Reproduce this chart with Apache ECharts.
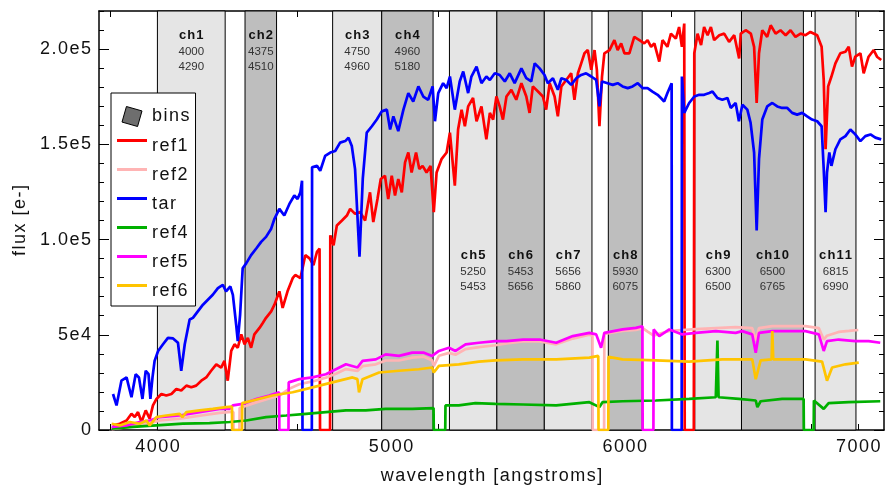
<!DOCTYPE html>
<html lang="en">
<head>
<meta charset="UTF-8">
<title>spectra bins</title>
<style>
    html,body{
        width: 100%;
        height: 100%;
        margin: 0;
        padding: 0;
        background: #fff;
    }
    #chart{
        width: 886px;
        height: 490px;
    }
</style>
</head>
<body>
<div id="chart"></div>
<script src="https://cdn.jsdelivr.net/npm/echarts@6/dist/echarts.min.js"></script>
<script>
// bins (angstroms)
var binNames = ['ch1', 'ch2', 'ch3', 'ch4', 'ch5', 'ch6', 'ch7', 'ch8', 'ch9', 'ch10', 'ch11'];
var binStart = [4000, 4375, 4750, 4960, 5250, 5453, 5656, 5930, 6300, 6500, 6815];
var binEnd   = [4290, 4510, 4960, 5180, 5453, 5656, 5860, 6075, 6500, 6765, 6990];

// axis ticks
var xLabelTicks = [4000, 5000, 6000, 7000];
var xTicks = [3800, 4000, 4200, 4400, 4600, 4800, 5000, 5200, 5400, 5600, 5800, 6000, 6200, 6400, 6600, 6800, 7000];
var yMajorTicks = [0, 50, 100, 150, 200];
var yTickLabels = ['0', '5e4', '1.0e5', '1.5e5', '2.0e5'];
var yMinorTicks = [0, 10, 20, 30, 40, 50, 60, 70, 80, 90, 100, 110, 120, 130, 140, 150, 160, 170, 180, 190, 200, 210, 220];

// spectra: [wavelength, flux in 1e3 e-]
var ref1 = [[3810,2.4],[3839,3.3],[3868,5.0],[3889,8.5],[3903,6.8],[3917,9.4],[3932,4.2],[3950,10.3],[3967,5.9],[3981,12.9],[3996,16.3],[4017,18.9],[4038,18.1],[4060,18.9],[4081,21.5],[4102,20.7],[4124,23.3],[4145,22.4],[4166,23.3],[4188,25.9],[4209,27.6],[4230,31.1],[4252,34.5],[4273,32.8],[4287,36.3],[4301,25.9],[4316,41.5],[4330,45.0],[4344,43.2],[4359,50.2],[4373,45.0],[4387,48.4],[4401,43.2],[4415,50.2],[4437,53.6],[4451,56.2],[4465,58.9],[4487,62.3],[4501,65.8],[4522,72.8],[4536,64.1],[4557,72.8],[4579,79.7],[4590,81.4],[4612,79.7],[4633,91.8],[4651,90.1],[4668,86.6],[4683,93.6],[4694,95.3],[4696,0],[4739,0],[4740,102.2],[4754,97.0],[4768,107.4],[4790,110.0],[4811,112.6],[4825,116.1],[4846,113.5],[4868,114.4],[4889,110.0],[4910,124.8],[4924,109.2],[4942,121.3],[4956,131.8],[4974,133.5],[4988,121.3],[5003,133.5],[5017,123.1],[5031,131.8],[5046,124.8],[5060,140.5],[5074,145.7],[5088,135.2],[5107,145.7],[5121,137.0],[5135,138.7],[5152,135.2],[5169,138.7],[5183,114.4],[5195,135.2],[5216,142.2],[5238,145.7],[5252,156.1],[5273,128.3],[5287,157.8],[5302,168.2],[5316,159.5],[5330,169.9],[5351,174.3],[5366,162.1],[5387,169.9],[5408,152.6],[5423,166.5],[5437,163.0],[5451,175.1],[5465,169.9],[5479,163.0],[5494,175.1],[5515,178.6],[5536,173.4],[5558,182.1],[5579,175.1],[5593,166.5],[5607,180.4],[5629,177.7],[5650,175.1],[5664,168.2],[5679,182.1],[5700,175.1],[5714,164.7],[5729,180.4],[5750,183.8],[5771,187.3],[5785,173.4],[5800,187.3],[5814,192.5],[5828,197.8],[5842,199.5],[5857,189.1],[5871,199.5],[5881,189.1],[5892,159.5],[5903,185.6],[5913,197.8],[5935,199.5],[5956,204.7],[5970,199.5],[5985,203.0],[5999,197.8],[6020,197.8],[6041,206.4],[6063,204.7],[6084,203.0],[6098,204.7],[6113,201.2],[6127,203.0],[6148,193.4],[6162,204.7],[6183,201.2],[6198,208.1],[6219,205.5],[6233,211.6],[6245,201.2],[6255,213.4],[6257,0],[6296,0],[6298,197.8],[6312,208.1],[6327,202.1],[6340,211.6],[6355,207.3],[6369,211.6],[6383,204.7],[6405,207.3],[6426,208.1],[6447,203.8],[6469,207.3],[6490,195.1],[6497,208.1],[6518,209.9],[6540,208.1],[6554,201.2],[6565,171.7],[6575,197.8],[6589,209.9],[6610,206.4],[6625,212.5],[6646,208.1],[6667,209.9],[6689,207.3],[6710,209.9],[6731,206.4],[6753,208.1],[6774,207.3],[6795,209.0],[6824,207.3],[6843,201.2],[6852,183.8],[6860,147.4],[6871,180.4],[6885,185.6],[6902,192.5],[6923,197.8],[6945,198.6],[6959,201.2],[6973,190.8],[6987,196.0],[7009,197.8],[7023,187.3],[7044,196.0],[7066,199.5],[7080,196.0],[7098,194.3]];

var ref2 = [[3804,0.5],[3868,1.5],[3924,3.0],[3967,3.5],[4010,5.0],[4095,6.0],[4181,7.5],[4266,9.0],[4316,9.5],[4325,9.5],[4326,0],[4351,0],[4352,11.5],[4423,14.5],[4479,16.5],[4522,18.0],[4562,21.5],[4607,24.0],[4664,25.5],[4721,27.5],[4764,29.5],[4807,32.0],[4856,31.0],[4878,33.5],[4935,34.5],[4977,36.5],[5034,36.5],[5091,38.0],[5141,38.5],[5176,36.5],[5183,33.5],[5205,39.0],[5248,40.5],[5276,39.5],[5319,42.5],[5376,43.5],[5447,44.5],[5494,45.5],[5565,46.5],[5636,46.5],[5707,45.0],[5778,48.0],[5849,50.0],[5862,49.5],[5863,0],[5912,0],[5913,50.5],[5991,52.0],[6048,52.5],[6077,53.5],[6100,51.5],[6124,49.5],[6148,50.5],[6191,52.0],[6247,52.5],[6304,53.0],[6390,53.5],[6475,54.0],[6546,53.5],[6561,47.0],[6575,53.5],[6632,54.5],[6703,54.5],[6774,54.5],[6831,53.5],[6852,47.5],[6866,49.5],[6916,51.5],[6960,52.0],[7000,52.5]];

var tar = [[3810,18.9],[3825,12.9],[3846,25.9],[3868,27.6],[3889,17.2],[3907,29.3],[3921,27.6],[3936,16.3],[3950,31.1],[3962,29.3],[3970,16.3],[3979,27.6],[3988,36.3],[4003,41.5],[4024,45.0],[4045,48.4],[4067,48.1],[4088,45.8],[4102,31.1],[4117,45.0],[4138,58.0],[4152,58.9],[4173,62.3],[4195,65.8],[4216,68.4],[4237,71.0],[4259,74.5],[4280,76.2],[4294,72.8],[4312,75.4],[4323,71.0],[4337,55.4],[4344,46.7],[4354,60.6],[4365,84.9],[4380,87.5],[4401,91.8],[4423,95.3],[4444,98.8],[4465,101.4],[4487,105.7],[4501,110.9],[4522,116.1],[4543,112.6],[4565,118.7],[4586,123.1],[4600,121.3],[4612,124.8],[4619,130.9],[4621,0],[4661,0],[4662,137.9],[4683,138.7],[4697,136.1],[4718,143.9],[4740,145.7],[4761,146.5],[4782,150.9],[4804,151.7],[4818,153.5],[4832,149.1],[4846,137.0],[4865,91.0],[4879,131.8],[4896,156.1],[4918,159.5],[4939,163.0],[4960,167.3],[4982,168.2],[4996,157.8],[5010,164.7],[5031,156.9],[5053,168.2],[5074,176.9],[5095,172.5],[5117,180.4],[5138,175.1],[5159,173.4],[5178,180.4],[5188,162.1],[5202,176.9],[5223,182.1],[5238,179.5],[5252,185.6],[5273,168.2],[5294,183.0],[5309,188.2],[5330,176.9],[5344,185.6],[5366,190.8],[5387,182.1],[5408,185.6],[5423,183.8],[5444,187.3],[5465,186.4],[5487,183.0],[5508,187.3],[5529,182.1],[5558,189.9],[5579,184.7],[5600,183.0],[5615,192.5],[5636,189.9],[5657,186.4],[5671,182.1],[5693,184.7],[5714,178.6],[5729,184.7],[5750,183.8],[5771,181.2],[5793,184.7],[5814,186.4],[5835,187.3],[5857,185.6],[5878,183.8],[5892,169.9],[5903,183.0],[5927,182.1],[5949,181.2],[5970,182.1],[5991,180.4],[6013,179.5],[6034,180.4],[6056,182.1],[6077,179.5],[6098,179.5],[6119,177.7],[6141,176.0],[6155,174.3],[6169,172.5],[6183,176.9],[6201,182.1],[6202,0],[6244,0],[6245,185.6],[6255,166.5],[6276,171.7],[6298,175.1],[6319,176.0],[6340,176.0],[6362,176.9],[6376,177.7],[6397,174.3],[6418,173.4],[6440,174.3],[6454,169.1],[6475,171.7],[6489,162.1],[6504,170.8],[6525,168.2],[6539,161.3],[6554,145.7],[6565,104.8],[6575,142.2],[6589,163.0],[6610,169.9],[6632,171.7],[6653,169.9],[6674,169.1],[6696,169.1],[6717,166.5],[6738,165.6],[6760,166.5],[6781,164.7],[6802,163.0],[6824,162.1],[6843,159.5],[6852,137.0],[6860,114.4],[6866,135.2],[6876,145.7],[6885,138.7],[6902,147.4],[6923,152.6],[6945,154.3],[6966,157.8],[6987,155.2],[7009,151.7],[7030,154.3],[7052,155.2],[7073,153.5],[7098,152.6]];

var ref4 = [[3804,0.7],[3896,1.6],[3996,2.4],[4109,3.3],[4223,3.6],[4309,4.2],[4380,5.0],[4465,6.8],[4551,7.6],[4636,8.5],[4721,9.4],[4807,10.3],[4892,10.3],[4977,11.1],[5091,11.1],[5182,11.5],[5183,0],[5232,0],[5233,12.9],[5290,12.9],[5361,14.1],[5447,13.7],[5565,13.4],[5707,12.9],[5849,14.6],[5892,12.0],[5905,14.6],[5991,15.1],[6134,15.5],[6276,16.3],[6390,17.2],[6397,47.0],[6402,17.2],[6489,16.3],[6561,15.5],[6568,12.0],[6582,15.1],[6674,16.3],[6766,16.3],[6767,0],[6809,0],[6810,15.5],[6852,11.1],[6873,14.1],[6959,14.6],[7094,15.1]];

var ref5 = [[3804,1.6],[3868,2.4],[3924,4.2],[3967,5.0],[4010,6.8],[4095,7.6],[4181,9.4],[4266,11.1],[4309,11.1],[4323,12.9],[4365,13.7],[4423,16.3],[4479,18.1],[4521,19.8],[4522,0],[4561,0],[4562,25.0],[4607,26.7],[4664,27.6],[4721,29.3],[4764,31.9],[4807,34.5],[4856,32.8],[4878,36.3],[4935,37.1],[4977,39.7],[5034,38.9],[5091,40.6],[5141,40.6],[5176,38.9],[5205,41.5],[5248,43.2],[5276,41.5],[5319,45.0],[5376,45.8],[5447,46.7],[5494,46.7],[5565,47.5],[5636,47.5],[5707,45.8],[5778,49.3],[5849,51.0],[5878,50.2],[5899,43.2],[5913,51.0],[5991,52.8],[6048,53.6],[6076,54.5],[6077,0],[6123,0],[6124,52.8],[6148,49.3],[6191,52.8],[6247,50.2],[6304,51.0],[6390,51.9],[6475,51.0],[6503,51.9],[6546,50.2],[6561,40.6],[6575,51.0],[6632,51.9],[6703,51.9],[6774,51.9],[6831,50.2],[6852,41.5],[6866,46.7],[6916,47.5],[6987,46.7],[7044,46.7],[7094,45.8]];

var ref6 = [[3804,3.3],[3839,2.4],[3882,4.2],[3924,3.3],[3953,5.0],[3967,2.4],[3996,6.8],[4038,7.6],[4095,8.5],[4107,6.8],[4124,9.4],[4181,10.3],[4237,11.1],[4294,12.0],[4319,12.3],[4320,0],[4362,0],[4363,14.1],[4408,15.5],[4493,18.1],[4579,19.8],[4664,22.4],[4749,25.0],[4835,27.6],[4856,26.7],[4863,19.8],[4878,26.7],[4949,30.2],[5034,31.1],[5119,31.9],[5176,32.8],[5183,30.2],[5205,33.7],[5290,34.5],[5376,35.9],[5447,36.6],[5565,37.1],[5707,37.1],[5849,38.0],[5887,38.9],[5888,0],[5930,0],[5931,38.4],[5991,37.1],[6134,36.6],[6276,35.9],[6418,37.1],[6546,37.1],[6561,26.7],[6582,36.6],[6629,37.1],[6632,51.9],[6636,37.1],[6774,37.1],[6845,35.9],[6866,25.9],[6888,32.8],[6945,34.5],[7002,35.4]];

var FONT = '"Liberation Sans", Arial, sans-serif';

// the plot font is widely tracked, fake it with hair spaces
function track(s) {
    return String(s).split('').join('\u200A');
}

// legend line swatch, sits in the upper part of the row
var lineIcon = 'path://M0,0 L0.1,0 L0,0.1 Z M0,3 L30,3 L30,6 L0,6 Z M0,20 L0.1,20 L0,19.9 Z';

var chart = echarts.init(document.getElementById('chart'));

var binAreas = binNames.map(function (name, i) {
    return [{
        xAxis: binStart[i],
        itemStyle: { color: i % 2 === 0 ? '#e5e5e5' : '#bebebe' },
        label: {
            show: true,
            position: 'insideTop',
            distance: i < 4 ? 15 : 235,
            formatter: '{n|' + track(name) + '}\n{v|' + binStart[i] + '}\n{v|' + binEnd[i] + '}'
        }
    }, {
        xAxis: binEnd[i]
    }];
});

var lineSeries = function (name, data, color) {
    return {
        name: name,
        type: 'line',
        data: data,
        symbol: 'none',
        showSymbol: false,
        z: 3,
        lineStyle: { color: color, width: 2.7 },
        itemStyle: { color: color },
        emphasis: { disabled: true }
    };
};

var tickAxis = function (pos, ticks, len, withLine) {
    return {
        type: 'value',
        position: pos,
        min: 0,
        max: 220,
        axisLine: { show: withLine, onZero: false, lineStyle: { color: '#000', width: 1.5 } },
        axisTick: { show: true, inside: true, length: len, customValues: ticks, lineStyle: { color: '#000', width: 1 } },
        axisLabel: { show: false },
        splitLine: { show: false }
    };
};

var option = {
    animation: false,
    backgroundColor: '#fff',
    grid: { left: 99, right: 2, top: 11, bottom: 57, containLabel: false },
    legend: {
        orient: 'vertical',
        left: 111,
        top: 93,
        padding: [13, 6, 5, 6],
        itemWidth: 30,
        itemHeight: 20,
        itemGap: 9,
        borderColor: '#000',
        borderWidth: 1,
        borderRadius: 0,
        backgroundColor: '#fff',
        selectedMode: false,
        formatter: track,
        textStyle: { fontFamily: FONT, fontSize: 18, color: '#111' },
        data: [
            { name: 'bins', icon: 'path://M4,0 L18,4 L14,18 L0,14 Z', itemStyle: { color: '#6e6e6e', borderColor: '#000', borderWidth: 1 } },
            { name: 'ref1', icon: lineIcon },
            { name: 'ref2', icon: lineIcon },
            { name: 'tar', icon: lineIcon },
            { name: 'ref4', icon: lineIcon },
            { name: 'ref5', icon: lineIcon },
            { name: 'ref6', icon: lineIcon }
        ]
    },
    xAxis: [{
        type: 'value',
        position: 'bottom',
        min: 3750,
        max: 7110,
        name: track('wavelength [angstroms]'),
        nameLocation: 'middle',
        nameGap: 37,
        nameTextStyle: { fontFamily: FONT, fontSize: 18, color: '#111' },
        axisLine: { onZero: false, lineStyle: { color: '#000', width: 1.5 } },
        axisTick: { inside: true, length: 6, customValues: xTicks, lineStyle: { color: '#000' } },
        axisLabel: {
            customValues: xLabelTicks,
            margin: 8,
            fontFamily: FONT,
            fontSize: 18,
            color: '#111',
            formatter: function (v) { return track(v); }
        },
        splitLine: { show: false }
    }, {
        type: 'value',
        position: 'top',
        min: 3750,
        max: 7110,
        axisLine: { onZero: false, lineStyle: { color: '#000', width: 1.5 } },
        axisTick: { inside: true, length: 6, customValues: xTicks, lineStyle: { color: '#000' } },
        axisLabel: { show: false },
        splitLine: { show: false }
    }],
    yAxis: [{
        type: 'value',
        position: 'left',
        min: 0,
        max: 220,
        name: track('flux [e-]'),
        nameLocation: 'middle',
        nameGap: 70,
        nameTextStyle: { fontFamily: FONT, fontSize: 18, color: '#111' },
        axisLine: { onZero: false, lineStyle: { color: '#000', width: 1.5 } },
        axisTick: { inside: true, length: 10, customValues: yMajorTicks, lineStyle: { color: '#000' } },
        axisLabel: {
            customValues: yMajorTicks,
            margin: 8,
            fontFamily: FONT,
            fontSize: 18,
            color: '#111',
            formatter: function (v) { return track(yTickLabels[yMajorTicks.indexOf(v)]); }
        },
        splitLine: { show: false }
    },
        tickAxis('left', yMinorTicks, 5, false),
        tickAxis('right', yMajorTicks, 10, true),
        tickAxis('right', yMinorTicks, 5, false)
    ],
    series: [{
        name: 'bins',
        type: 'line',
        data: [],
        z: 1,
        symbol: 'none',
        itemStyle: { color: '#6e6e6e' },
        markArea: {
            silent: true,
            itemStyle: { borderColor: '#000', borderWidth: 1 },
            label: {
                fontFamily: FONT,
                color: '#222',
                rich: {
                    n: { fontFamily: FONT, fontSize: 13, fontWeight: 'bold', color: '#111', lineHeight: 19 },
                    v: { fontFamily: FONT, fontSize: 11.5, color: '#333', lineHeight: 15 }
                }
            },
            emphasis: { disabled: true },
            data: binAreas
        }
    },
        lineSeries('ref1', ref1, '#ff0000'),
        lineSeries('ref2', ref2, '#ffb4b4'),
        lineSeries('tar', tar, '#0000ff'),
        lineSeries('ref4', ref4, '#00b000'),
        lineSeries('ref5', ref5, '#ff00ff'),
        lineSeries('ref6', ref6, '#ffc400')
    ]
};

chart.setOption(option);
</script>
</body>
</html>
